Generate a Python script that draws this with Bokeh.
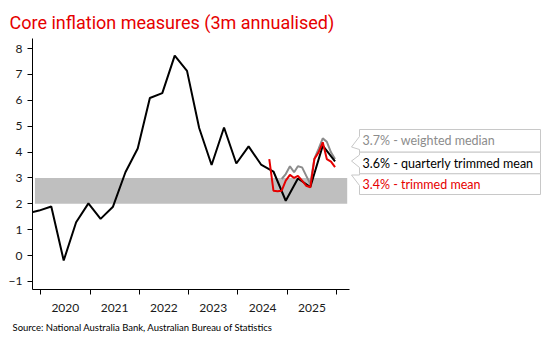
import pandas as pd
from bokeh.plotting import figure
from bokeh.models import Range1d, FixedTicker, CustomJSTickFormatter, BoxAnnotation, Title
from bokeh.layouts import row
from bokeh.core.properties import value
from bokeh.embed import file_html
from bokeh.resources import INLINE

# ---------------- data ----------------
quarter_months = ["2019-09", "2019-12", "2020-03", "2020-06", "2020-09", "2020-12",
                  "2021-03", "2021-06", "2021-09", "2021-12", "2022-03", "2022-06",
                  "2022-09", "2022-12", "2023-03", "2023-06", "2023-09", "2023-12",
                  "2024-03", "2024-06", "2024-09", "2024-12", "2025-03", "2025-06",
                  "2025-09", "2025-12"]
quarterly_trimmed_mean = [1.62, 1.74, 1.90, -0.19, 1.29, 2.02,
                          1.42, 1.89, 3.22, 4.14, 6.09, 6.28,
                          7.73, 7.14, 4.93, 3.50, 4.95, 3.56,
                          4.22, 3.52, 3.25, 2.12, 2.98, 2.65,
                          4.25, 3.64]

tm_months = ["2024-08", "2024-09", "2024-10", "2024-11", "2024-12", "2025-01",
             "2025-02", "2025-03", "2025-04", "2025-05", "2025-06", "2025-07",
             "2025-08", "2025-09", "2025-10", "2025-11", "2025-12"]
trimmed_mean = [3.73, 2.51, 2.49, 2.51, 2.90, 3.12,
                3.00, 3.08, 2.90, 2.70, 2.64, 3.73,
                3.99, 4.38, 3.73, 3.63, 3.42]

wm_months = ["2024-11", "2024-12", "2025-01", "2025-02", "2025-03", "2025-04",
             "2025-05", "2025-06", "2025-07", "2025-08", "2025-09", "2025-10",
             "2025-11", "2025-12"]
weighted_median = [2.96, 3.15, 3.45, 3.22, 3.45, 3.41,
                   3.09, 2.77, 3.75, 4.12, 4.53, 4.40,
                   3.99, 3.73]

year_labels = [2020, 2021, 2022, 2023, 2024, 2025]
y_ticks = [-1, 0, 1, 2, 3, 4, 5, 6, 7, 8]
target_low, target_high = 2, 3
callout_labels = ["3.7% - weighted median",
                  "3.6% - quarterly trimmed mean",
                  "3.4% - trimmed mean"]
title_text = "Core inflation measures (3m annualised)"
source_text = "Source: National Australia Bank, Australian Bureau of Statistics"

# ---------------- styling ----------------
RED = "#e60000"
GREY = "#8c8c8c"
BLACK = "#000000"
BAND = "#bfbfbf"
FONT = "Lato"


def ms(ts):
    return pd.Timestamp(ts).value / 1e6


def to_dates(months):
    return pd.to_datetime([m + "-20" for m in months])


p = figure(width=350, height=350, x_axis_type="datetime",
           x_range=Range1d(ms("2019-11-02"), ms("2026-04-06")),
           y_range=Range1d(-1.31, 8.39),
           output_backend="svg", toolbar_location=None,
           min_border_left=32, min_border_right=1,
           min_border_top=38, min_border_bottom=61)
p.grid.visible = False
p.outline_line_color = None
p.background_fill_color = "white"

band = BoxAnnotation(bottom=target_low, top=target_high,
                     left=ms("2019-11-20"), right=ms("2026-03-20"),
                     fill_color=BAND, fill_alpha=1.0, line_color=None,
                     level="underlay")
p.add_layout(band)

p.line(to_dates(wm_months), weighted_median, line_color=GREY, line_width=2)
p.line(to_dates(quarter_months), quarterly_trimmed_mean, line_color=BLACK, line_width=2)
p.line(to_dates(tm_months), trimmed_mean, line_color=RED, line_width=2)

# x axis: labels mid-year, ticks at year boundaries
p.xaxis.ticker = FixedTicker(
    ticks=[ms(f"{y}-07-02") for y in year_labels],
    minor_ticks=[ms(f"{y}-01-01") for y in year_labels + [year_labels[-1] + 1]])
p.xaxis.formatter = CustomJSTickFormatter(code="return String(new Date(tick).getUTCFullYear())")
p.xaxis.major_tick_line_color = None
p.xaxis.major_tick_out = 0
p.xaxis.major_tick_in = 0
p.xaxis.minor_tick_line_color = BLACK
p.xaxis.minor_tick_out = 5
p.xaxis.minor_tick_in = 0
p.xaxis.major_label_standoff = 9

p.yaxis.ticker = FixedTicker(ticks=y_ticks)
p.yaxis.major_tick_out = 5
p.yaxis.major_tick_in = 0
p.yaxis.minor_tick_line_color = None
p.yaxis.major_label_standoff = 5

for ax in (p.xaxis, p.yaxis):
    ax.axis_line_color = BLACK
    ax.axis_line_width = 1
    ax.major_label_text_font = FONT
    ax.major_label_text_font_size = "12px"
    ax.major_label_text_color = "#1a1a1a"
    ax.major_tick_line_width = 1

p.title.text = title_text
p.title.align = "left"
p.title.offset = -23
p.title.standoff = 12
p.title.text_font = "Roboto"
p.title.text_font_size = "18px"
p.title.text_font_style = "normal"
p.title.text_color = RED

src = Title(text=source_text, align="left", offset=-20,
            text_font=FONT, text_font_size="9.5px",
            text_font_style="normal", text_color="#000000")
p.add_layout(src, "below")

# ---------------- callouts (right margin) ----------------
q = figure(width=200, height=350,
           x_range=Range1d(350, 550), y_range=Range1d(289, 38),
           output_backend="svg", toolbar_location=None,
           x_axis_type=None, y_axis_type=None,
           min_border_left=0, min_border_right=0,
           min_border_top=38, min_border_bottom=61)
q.outline_line_color = None
q.grid.visible = False

L, R, TIP = 359, 540, 351
boxes = [
    # top, bottom, notch_top, tip_y, notch_bottom
    (129.0, 151.7, 136.0, 146.5, 149.0),
    (151.7, 173.3, 154.5, 160.5, 167.0),
    (173.3, 194.0, 174.5, 174.5, 185.0),
]
xs, ys = [], []
for top, bot, nt, ty, nb in boxes:
    xs.append([R, L, L, TIP, L, L, R])
    ys.append([top, top, nt, ty, nb, bot, bot])
q.patches(xs, ys, fill_color="white", line_color="#c8c8c8", line_width=1)

q.text(x=[362, 362, 362],
       y=[(b[0] + b[1]) / 2 for b in boxes],
       text=callout_labels,
       text_color=[GREY, BLACK, RED],
       text_font=value(FONT), text_font_size="12.5px",
       text_baseline="middle", text_align="left")

layout = row(p, q)
open("out.html", "w").write(file_html(layout, INLINE))
